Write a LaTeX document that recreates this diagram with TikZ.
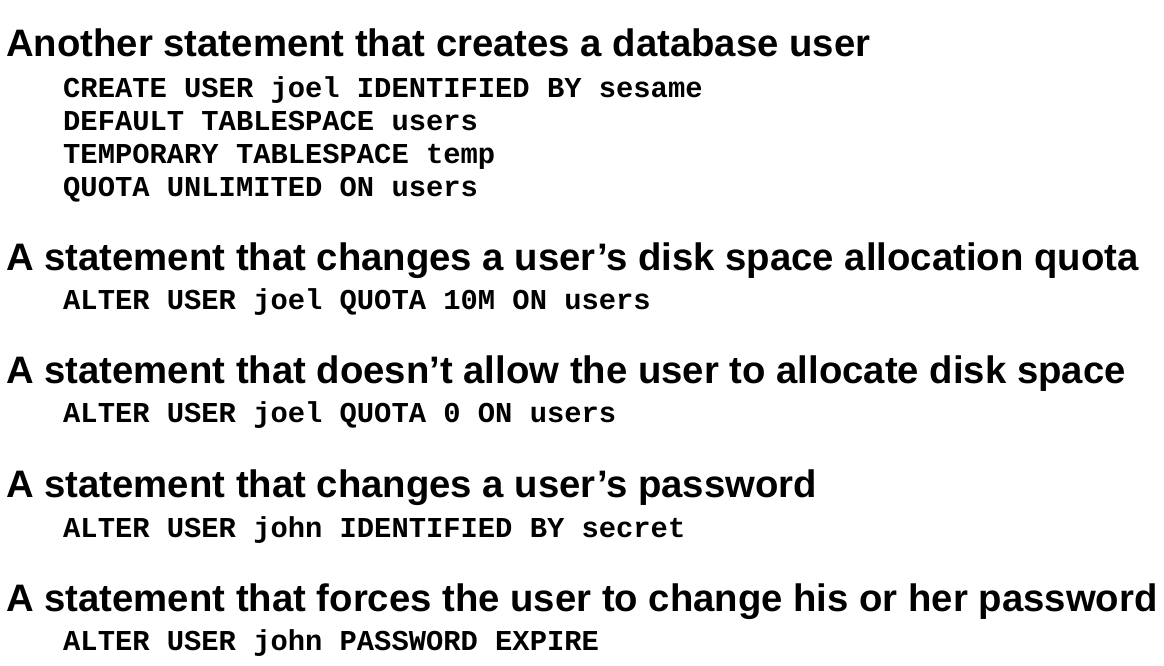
\documentclass[tikz,border=0pt]{standalone}
\usepackage{fontspec}
\newfontfamily\hdfont{Liberation Sans}
\newfontfamily\cdfont{Liberation Mono}
\tikzset{
  head/.style={anchor=base west, inner sep=0pt, font=\hdfont\bfseries\fontsize{38.3}{42}\selectfont},
  code/.style={anchor=base west, inner sep=0pt, font=\cdfont\bfseries\fontsize{28.8}{32}\selectfont},
}
\begin{document}
\begin{tikzpicture}[x=1pt,y=-1pt]
\useasboundingbox[fill=white] (0,0) rectangle (1164,666);
\node[head] (h1) at (6,57) {Another statement that creates a database user};
\node[code] (c1a) at (63,97.5) {CREATE USER joel IDENTIFIED BY sesame};
\node[code] (c1b) at (63,130.5) {DEFAULT TABLESPACE users};
\node[code] (c1c) at (63,163.5) {TEMPORARY TABLESPACE temp};
\node[code] (c1d) at (63,196) {QUOTA UNLIMITED ON users};
\node[head] (h2) at (6,270) {A statement that changes a user’s disk space allocation quota};
\node[code] (c2) at (63,309) {ALTER USER joel QUOTA 10M ON users};
\node[head] (h3) at (6,383) {A statement that doesn’t allow the user to allocate disk space};
\node[code] (c3) at (63,422.5) {ALTER USER joel QUOTA 0 ON users};
\node[head] (h4) at (6,497) {A statement that changes a user’s password};
\node[code] (c4) at (63,537) {ALTER USER john IDENTIFIED BY secret};
\node[head] (h5) at (6,611.5) {A statement that forces the user to change his or her password};
\node[code] (c5) at (63,650) {ALTER USER john PASSWORD EXPIRE};
\end{tikzpicture}
\end{document}
